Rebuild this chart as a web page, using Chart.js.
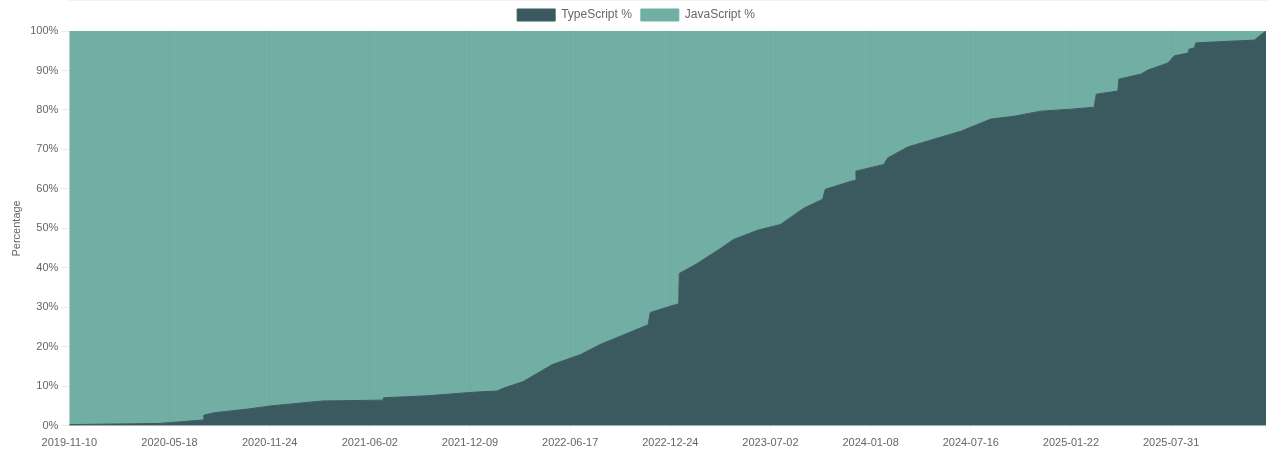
<!DOCTYPE html>
<html>
<head>
<meta charset="utf-8">
<script src="https://cdn.jsdelivr.net/npm/chart.js@4.4.1/dist/chart.umd.min.js"></script>
<style>
  html, body { margin: 0; padding: 0; background: #fff; }
  #wrap { width: 1280px; height: 457px; position: relative; }
</style>
</head>
<body>
<div id="wrap"><canvas id="chart"></canvas></div>
<script>
// Datos (fecha -> % del código)
const startDate = '2019-11-10';
const endDate = '2026-01-27';

const tickDates = [
  '2019-11-10', '2020-05-18', '2020-11-24', '2021-06-02', '2021-12-09', '2022-06-17',
  '2022-12-24', '2023-07-02', '2024-01-08', '2024-07-16', '2025-01-22', '2025-07-31'
];

const dates = [
  '2019-11-10', '2020-04-29', '2020-05-18', '2020-07-14', '2020-07-21', '2020-07-22',
  '2020-08-11', '2020-10-11', '2020-11-30', '2021-03-05', '2021-06-27', '2021-06-28',
  '2021-09-18', '2021-12-05', '2021-12-28', '2022-01-29', '2022-02-10', '2022-03-20',
  '2022-05-14', '2022-07-06', '2022-08-13', '2022-10-03', '2022-11-12', '2022-11-16',
  '2023-01-03', '2023-01-09', '2023-01-10', '2023-02-13', '2023-03-29', '2023-04-23',
  '2023-06-07', '2023-07-21', '2023-09-03', '2023-10-09', '2023-10-14', '2023-12-01',
  '2023-12-10', '2023-12-11', '2024-02-02', '2024-02-09', '2024-03-18', '2024-05-07',
  '2024-06-27', '2024-08-23', '2024-10-06', '2024-11-26', '2025-01-22', '2025-03-07',
  '2025-03-11', '2025-04-21', '2025-04-23', '2025-06-04', '2025-06-17', '2025-07-25',
  '2025-08-06', '2025-09-01', '2025-09-03', '2025-09-13', '2025-09-16', '2026-01-05',
  '2026-01-14', '2026-01-27'
];

const tsPct = [
  0.3, 0.6, 0.8, 1.4, 1.5, 2.7,
  3.3, 4.2, 5.1, 6.3, 6.5, 7.1,
  7.6, 8.4, 8.6, 8.8, 9.5, 11.2,
  15.5, 18.0, 20.6, 23.4, 25.6, 28.7,
  30.7, 30.9, 38.6, 41.1, 44.9, 47.2,
  49.5, 51.0, 55.1, 57.4, 59.9, 61.9,
  62.2, 64.5, 66.2, 67.8, 70.6, 72.6,
  74.6, 77.7, 78.4, 79.7, 80.2, 80.7,
  84.0, 84.8, 87.8, 89.1, 90.1, 91.9,
  93.7, 94.4, 95.4, 95.7, 97.0, 97.7,
  98.7, 100
];

const jsPct = [
  99.7, 99.4, 99.2, 98.6, 98.5, 97.3,
  96.7, 95.8, 94.9, 93.7, 93.5, 92.9,
  92.4, 91.6, 91.4, 91.2, 90.5, 88.8,
  84.5, 82.0, 79.4, 76.6, 74.4, 71.3,
  69.3, 69.1, 61.4, 58.9, 55.1, 52.8,
  50.5, 49.0, 44.9, 42.6, 40.1, 38.1,
  37.8, 35.5, 33.8, 32.2, 29.4, 27.4,
  25.4, 22.3, 21.6, 20.3, 19.8, 19.3,
  16.0, 15.2, 12.2, 10.9, 9.9, 8.1,
  6.3, 5.6, 4.6, 4.3, 3.0, 2.3,
  1.3, 0
];

const DAY = 86400000;
const t0 = Date.parse(startDate);
const dayOf = d => Math.round((Date.parse(d) - t0) / DAY);
const fmtDay = n => new Date(t0 + n * DAY).toISOString().slice(0, 10);

const tsColor = '#3b5a60';
const jsColor = '#71afa4';
const textColor = '#666';

new Chart(document.getElementById('chart'), {
  type: 'line',
  data: {
    datasets: [{
      label: 'TypeScript %',
      data: dates.map((d, i) => ({ x: dayOf(d), y: tsPct[i] })),
      backgroundColor: tsColor,
      borderColor: tsColor,
      borderWidth: 1,
      fill: 'origin',
      pointRadius: 0,
      tension: 0
    }, {
      label: 'JavaScript %',
      data: dates.map((d, i) => ({ x: dayOf(d), y: jsPct[i] })),
      backgroundColor: jsColor,
      borderColor: jsColor,
      borderWidth: 1,
      fill: '-1',
      pointRadius: 0,
      tension: 0
    }]
  },
  options: {
    responsive: true,
    maintainAspectRatio: false,
    animation: false,
    layout: { padding: { left: 6, right: 14, top: 0, bottom: 4 } },
    plugins: {
      legend: {
        position: 'top',
        labels: { color: textColor, font: { size: 12 }, boxWidth: 38, boxHeight: 12, padding: 9 }
      },
      tooltip: { enabled: false }
    },
    scales: {
      x: {
        type: 'linear',
        min: 0,
        max: dayOf(endDate),
        afterBuildTicks: axis => {
          axis.ticks = tickDates.map(d => ({ value: dayOf(d) }));
        },
        ticks: {
          color: textColor,
          font: { size: 11 },
          maxRotation: 0,
          autoSkip: false,
          callback: v => fmtDay(v)
        },
        grid: { color: 'rgba(0,0,0,0.03)', z: 1 }
      },
      y: {
        stacked: true,
        min: 0,
        max: 100,
        ticks: {
          stepSize: 10,
          color: textColor,
          font: { size: 11 },
          callback: v => v + '%'
        },
        grid: { color: 'rgba(0,0,0,0.08)' },
        title: {
          display: true,
          text: 'Percentage',
          color: textColor,
          font: { size: 11 }
        }
      }
    }
  }
});
</script>
</body>
</html>
